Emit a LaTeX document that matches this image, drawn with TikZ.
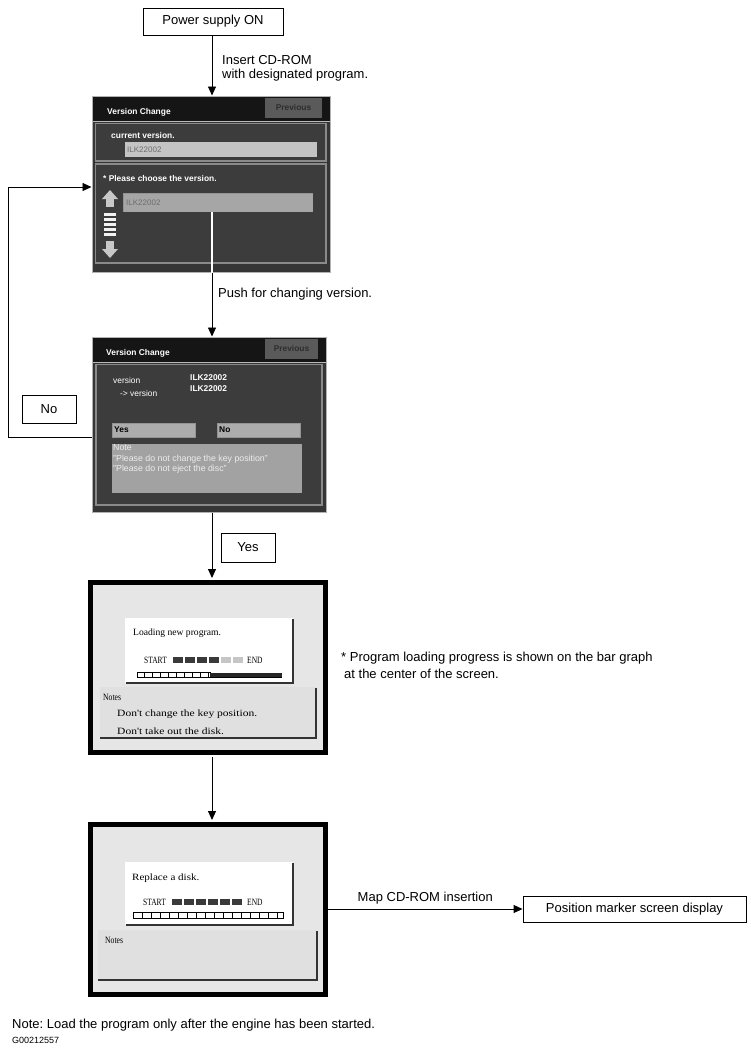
\documentclass[tikz,border=0pt]{standalone}
\usepackage{fontspec}
\setmainfont{Liberation Sans}
\newfontfamily\scrserif{Liberation Serif}
\usetikzlibrary{arrows.meta}
\definecolor{scrbg}{HTML}{353535}
\definecolor{titlec}{HTML}{151515}
\definecolor{prevc}{HTML}{5A5A5A}
\definecolor{prevtext}{HTML}{2E2E2E}
\definecolor{panelc}{HTML}{3C3C3C}
\definecolor{panelline}{HTML}{8A8A8A}
\definecolor{fieldc}{HTML}{C4C4C4}
\definecolor{fieldtwo}{HTML}{A6A6A6}
\definecolor{fieldtext}{HTML}{6E6E6E}
\definecolor{iconc}{HTML}{C8C8C8}
\definecolor{notec}{HTML}{A2A2A2}
\definecolor{lightscr}{HTML}{E6E6E6}
\definecolor{notesc}{HTML}{E0E0E0}
\definecolor{blockc}{HTML}{3A3A3A}
\frenchspacing
\begin{document}
\begin{tikzpicture}[x=1pt,y=-1pt,
  lbl/.style={font=\fontsize{13}{15}\selectfont, inner sep=0pt, align=left},
  fbox/.style={draw, line width=0.9pt, fill=white, font=\fontsize{13}{15}\selectfont, inner sep=0pt},
  arr/.style={line width=0.9pt, -{Triangle[width=8pt,length=9pt]}},
  dscreen/.style={fill=scrbg, draw=gray!60, line width=1pt, inner sep=0pt},
  panel/.style={fill=panelc, draw=panelline, line width=1.3pt},
  ui/.style={font=\fontsize{8.4}{10}\selectfont\bfseries, text=white, inner sep=0pt, anchor=west},
  uim/.style={font=\fontsize{8.4}{10}\selectfont, text=white, inner sep=0pt, anchor=west},
  prevtxt/.style={font=\fontsize{8.4}{10}\selectfont\bfseries, text=prevtext, inner sep=0pt},
  fldtxt/.style={font=\fontsize{8}{9}\selectfont, text=fieldtext, inner sep=0pt, anchor=west},
  btn/.style={fill=gray!65, draw=gray!85, line width=0.6pt, inner sep=0pt, minimum width=83pt, minimum height=14pt},
  lscreen/.style={draw, line width=5pt, fill=lightscr, inner sep=0pt},
  tt/.style={font=\fontsize{9.6}{11}\selectfont\scrserif, inner sep=0pt, anchor=west},
  shadow/.style={line width=1.3pt, draw=black!80},
]
\useasboundingbox (0,0) rectangle (750,1050);
\coordinate (col) at (212,0);

% ---------- Power supply ----------
\node[fbox, minimum width=140pt, minimum height=27pt] (pw) at (213,21.5) {Power supply ON};

% ---------- Screen 1 ----------
\node[dscreen, minimum width=238pt, minimum height=176pt] (s1) at (211,184) {};
\fill[titlec] (92.5,96.5) rectangle (329.5,121);
\draw[gray!55, line width=0.8pt] (92.5,121) -- (329.5,121);
\fill[prevc] (265,97.5) rectangle (322,118);
\node[prevtxt] at (293.5,107.5) {Previous};
\node[ui] at (107,112) {Version Change};
\draw[panel] (95.5,123.5) rectangle (326,161);
\node[ui] at (111,135) {current version.};
\fill[fieldc] (125,142) rectangle (317,157);
\node[fldtxt] at (127,149.5) {ILK22002};
\draw[panel] (95.5,164) rectangle (326,263);
\node[ui] at (103,178) {* Please choose the version.};
\coordinate (ch) at (95,187);
\fill[fieldtwo] (123,193) rectangle (313,212);
\draw[gray!85, line width=0.6pt] (123,212) -- (123,193) -- (313,193);
\node[fldtxt] at (126,202.5) {ILK22002};
\coordinate (f1) at (212,212);
% up arrow icon
\fill[iconc] (102,199) -- (110,190) -- (118,199) -- cycle;
\fill[iconc] (106,199) rectangle (114,207);
% stripes
\foreach \yy in {213,218,223,228,233}
  \fill[white!90!gray] (104,\yy) rectangle (116,\yy+3);
% down arrow icon
\fill[iconc] (106,241) rectangle (114,249);
\fill[iconc] (102,249) -- (118,249) -- (110,258) -- cycle;

\draw[arr] (pw.south -| col) -- (s1.north -| col);
\node[lbl, anchor=west] (ins) at (222,68.5) {Insert CD-ROM\\[-1pt]with designated program.};

% ---------- Screen 2 ----------
\node[dscreen, minimum width=234pt, minimum height=175pt] (s2) at (209,424.5) {};
\fill[titlec] (92.5,337.5) rectangle (325.5,362);
\draw[gray!55, line width=0.8pt] (92.5,362) -- (325.5,362);
\fill[prevc] (265,338.5) rectangle (318,359);
\node[prevtxt] at (291.5,348.5) {Previous};
\node[ui] at (106,353) {Version Change};
\draw[panel] (96,364.5) rectangle (322,505);
\node[uim] at (113,380) {version};
\node[uim] at (120,393) {-> version};
\node[ui] at (190,378) {ILK22002};
\node[ui] at (190,389) {ILK22002};
\node[btn] (yb1) at (153.5,430) {};
\node[ui, text=black] at (114,430) {Yes};
\node[btn] (nb1) at (258.5,430) {};
\node[ui, text=black] at (219,430) {No};
\fill[notec] (112,444) rectangle (302,493);
\node[font=\fontsize{8.8}{10.3}\selectfont, text=gray!15, inner sep=0pt, anchor=north west, align=left] at (113,444.5)
  {Note\\"Please do not change the key position"\\"Please do not eject the disc"};

\draw[white, line width=1.8pt] (f1) -- (s1.south -| f1);
\draw[arr] (s1.south -| col) -- (s2.north -| col);
\node[lbl, anchor=west] (push) at (218,294) {Push for changing version.};

% ---------- No loop ----------
\draw[arr] (s2.west |- yb1.south) -- ++(-83,0) |- (s1.west |- ch);
\node[fbox, minimum width=54pt, minimum height=28pt] (nob) at (49,409) {No};

% ---------- Screen 3 ----------
\node[lscreen, minimum width=235pt, minimum height=170pt] (s3) at (208,667.5) {};
\draw[arr] (s2.south -| col) -- ([yshift=2pt]s3.north -| col);
\node[fbox, minimum width=54pt, minimum height=29pt] (yesb) at (248,547.5) {Yes};
\fill[white] (125,618) rectangle (293,683);
\draw[shadow] (293,619) -- (293,683) -- (126,683);
\node[tt] at (133,633) {Loading new program.};
\node[tt] at (144,660) {\scalebox{0.78}[1]{START}};
\foreach \i in {0,...,5} {
  \ifnum\i<4 \fill[blockc] (173+\i*12,657) rectangle (183+\i*12,663);
  \else \fill[gray!45] (173+\i*12,657) rectangle (183+\i*12,663); \fi
}
\node[tt] at (247,660) {\scalebox{0.78}[1]{END}};
\draw[line width=0.5pt] (137,672.5) rectangle (210,677);
\foreach \x in {144,152,...,208} \draw[line width=0.5pt] (\x,673) -- (\x,677);
\fill[black!85] (210,672.5) rectangle (282,677.5);
\draw[line width=0.9pt] (137,677.5) -- (282,677.5);
\fill[notesc] (100,687) rectangle (316,738);
\draw[shadow] (316,688) -- (316,738) -- (100,738);
\node[tt] at (103,697) {\scalebox{0.8}[1]{Notes}};
\node[tt] at (117,714) {\scalebox{1.2}[1]{Don't change the key position.}};
\node[tt] at (117,731) {\scalebox{1.2}[1]{Don't take out the disk.}};
\node[lbl, anchor=north west] (prog) at (341,652) {* Program loading progress is shown on the bar graph\\[1.5pt]\hspace*{3pt}at the center of the screen.};

% ---------- Screen 4 ----------
\node[lscreen, minimum width=235pt, minimum height=170pt] (s4) at (208,909.5) {};
\draw[arr] ([yshift=-2pt]s3.south -| col) -- ([yshift=2pt]s4.north -| col);
\fill[white] (125,862) rectangle (293,925);
\draw[shadow] (293,863) -- (293,925) -- (126,925);
\node[tt] at (132,878) {\scalebox{1.15}[1]{Replace a disk.}};
\node[tt] at (143,902) {\scalebox{0.78}[1]{START}};
\foreach \i in {0,...,5} \fill[blockc] (172+\i*12,899) rectangle (182+\i*12,905);
\node[tt] at (247,902) {\scalebox{0.78}[1]{END}};
\draw[line width=0.5pt] (133,912.5) rectangle (283,918);
\foreach \x in {142,151,...,280} \draw[line width=0.5pt] (\x,913) -- (\x,918);
\draw[line width=0.9pt] (133,918) -- (283,918);
\fill[notesc] (98,930) rectangle (317,980);
\draw[shadow] (317,931) -- (317,980) -- (98,980);
\node[tt] at (105,940) {\scalebox{0.8}[1]{Notes}};

% ---------- Position marker ----------
\node[fbox, minimum width=223pt, minimum height=26pt] (pos) at (634.5,909) {Position marker screen display};
\draw[arr] (s4.east |- pos.west) -- node[lbl, above=4pt] {Map CD-ROM insertion} (pos.west);

% ---------- Footer ----------
\node[lbl, anchor=west] (foot) at (12,1025) {Note: Load the program only after the engine has been started.};
\node[font=\fontsize{9}{10}\selectfont, inner sep=0pt, anchor=west] (code) at (12,1040) {G00212557};
\end{tikzpicture}
\end{document}
